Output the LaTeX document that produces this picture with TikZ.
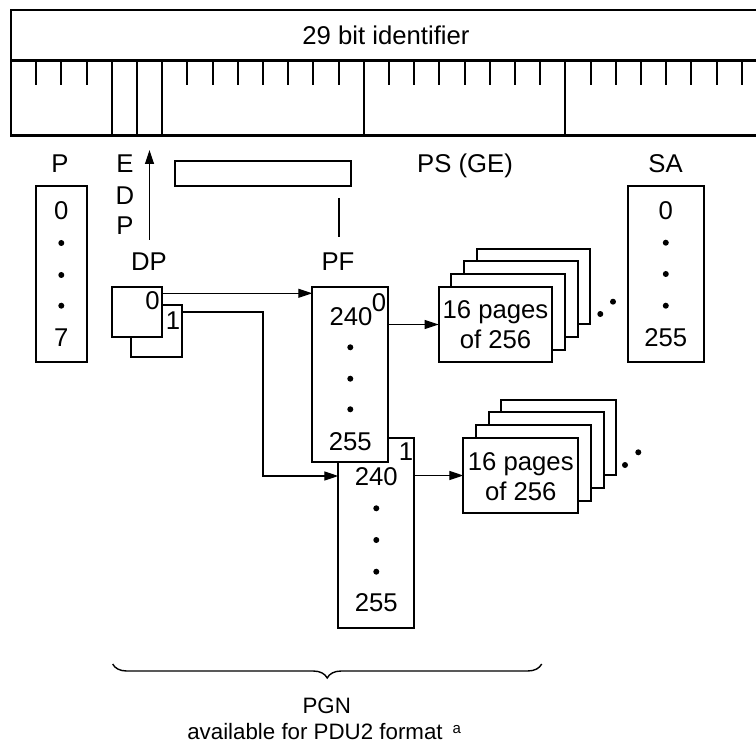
\documentclass[tikz,border=0pt]{standalone}
\usepackage{fontspec}
\setmainfont{Liberation Sans}
\usetikzlibrary{arrows.meta,decorations.pathreplacing}
\begin{document}
\begin{tikzpicture}[x=1pt,y=-1pt,
  lbl/.style={inner sep=0pt,outer sep=0pt,anchor=base,font=\fontsize{25.7}{30}\selectfont},
  lblsmall/.style={inner sep=0pt,outer sep=0pt,anchor=base,font=\fontsize{22.3}{26}\selectfont},
  lbltiny/.style={inner sep=0pt,outer sep=0pt,anchor=base,font=\fontsize{15}{18}\selectfont},
  box/.style={draw,line width=2.1pt,fill=white,inner sep=0pt,outer sep=0pt,anchor=north west},
  conn/.style={line width=1.2pt},
  arr/.style={conn,-{Triangle[length=14pt,width=9pt]}},
  barline/.style={line width=2.5pt},
  tickline/.style={line width=2.1pt},
  dotmark/.style={fill=black}]
\useasboundingbox (0,0) rectangle (756,749);

% 29 bit identifier bar
\draw[barline] (756,10) -- (11,10) -- (11,135.7) -- (756,135.7);
\draw[barline] (11,60.7) -- (756,60.7);
\foreach \n in {4,5,6,14,22} \draw[tickline] (11+\n*25.2,60.7) -- (11+\n*25.2,135.7);
\foreach \n in {1,2,3,7,8,9,10,11,12,13,15,16,17,18,19,20,21,23,24,25,26,27,28,29}
  \draw[tickline] (11+\n*25.2,60.7) -- (11+\n*25.2,85);
\node[lbl] (title) at (386,45) {29 bit identifier};

% field labels
\node[lbl] (lP) at (60,173) {P};
\node[lbl] (lE) at (125,173) {E};
\node[lbl] (lD) at (125,205) {D};
\node[lbl] (lP2) at (125,235) {P};
\node[lbl] (lDP) at (149,270) {DP};
\node[lbl] (lPF) at (338,270) {PF};
\node[lbl] (lPS) at (465,173) {PS (GE)};
\node[lbl] (lSA) at (665.5,173) {SA};

% EDP arrow
\coordinate (edpfoot) at (149.5,240);
\coordinate (edptip) at (149.5,150);
\draw[arr] (edpfoot) -- (edptip);

% PF bar and line
\node[box,minimum width=176pt,minimum height=25pt] (pfbar) at (174.7,160.7) {};
\coordinate (pfl1) at (339,198);
\coordinate (pfl2) at (339,237);
\draw[conn] (pfl1) -- (pfl2);

% P box
\node[box,minimum width=50.7pt,minimum height=176.3pt] (pbox) at (36,185.7) {};
\node[lbl] (p0) at (61.3,220) {0};
\foreach \y in {243,275,305.7} \fill[dotmark] (61.3,\y) circle (3pt);
\node[lbl] (p7) at (61.3,346.7) {7};

% SA box
\node[box,minimum width=75.7pt,minimum height=176.6pt] (sabox) at (628,185.7) {};
\node[lbl] (sa0) at (665.8,220) {0};
\foreach \y in {242.7,274,305.7} \fill[dotmark] (665.8,\y) circle (3pt);
\node[lbl] (sa255) at (665.8,346.7) {255};

% DP boxes
\node[box,minimum width=51pt,minimum height=51.7pt] (dp1) at (130.7,305) {};
\node[box,minimum width=50.6pt,minimum height=50pt] (dp0) at (111.7,286.7) {};
\node[lbl] (dp0t) at (152.5,309.5) {0};
\node[lbl] (dp1t) at (173,330) {1};

% PF boxes
\node[box,minimum width=76pt,minimum height=190.6pt] (pf1) at (338.3,437.7) {};
\node[box,minimum width=76pt,minimum height=175.6pt] (pf0) at (312.3,286.7) {};
\node[lbl] (pf0a) at (351,325) {240};
\node[lbl] (pf0s) at (379,311.7) {0};
\foreach \y in {347.3,378.7,409.3} \fill[dotmark] (350.3,\y) circle (3pt);
\node[lbl] (pf0b) at (350.3,450) {255};
\node[lbl] (pf1s) at (406,460) {1};
\node[lbl] (pf1a) at (376.3,485) {240};
\foreach \y in {508.3,540,571.7} \fill[dotmark] (376.3,\y) circle (3pt);
\node[lbl] (pf1b) at (376.3,611.7) {255};

% page stacks
\foreach \k in {3,2,1}
  \node[box,minimum width=113.6pt,minimum height=75.6pt] (pgu\k) at (438.7+12.7*\k,286.7-12.7*\k) {};
\node[box,minimum width=113.6pt,minimum height=75.6pt] (pg0) at (438.7,286.7) {};
\node[lbl] (pg0a) at (495.5,318.3) {16 pages};
\node[lbl] (pg0b) at (495.5,348.3) {of 256};
\fill[dotmark] (600.3,314) circle (3pt);
\fill[dotmark] (613,301.7) circle (3pt);

\foreach \k in {3,2,1}
  \node[box,minimum width=115pt,minimum height=75.6pt] (pgl\k) at (463.3+12.7*\k,437.7-12.7*\k) {};
\node[box,minimum width=115pt,minimum height=75.6pt] (pg1) at (463.3,437.7) {};
\node[lbl] (pg1a) at (520.8,470) {16 pages};
\node[lbl] (pg1b) at (520.8,500) {of 256};
\fill[dotmark] (625,465) circle (3pt);
\fill[dotmark] (638.3,452.3) circle (3pt);

% connectors
\coordinate (d0) at ([yshift=-6.6pt]dp0.north east);
\draw[arr] (d0) -- (d0 -| pf0.west);
\coordinate (d1) at ([yshift=-7pt]dp1.north east);
\coordinate (bend) at (263,476);
\draw[arr] (d1) -| (bend) -- (bend -| pf1.west);
\draw[arr] (pg0.west -| pf0.east) -- (pg0.west);
\draw[arr] (pg1.west -| pf1.east) -- (pg1.west);

% brace
\coordinate (brL) at (112.7,664);
\coordinate (brR) at (541.7,664);
\draw[line width=1.4pt,decorate,decoration={brace,mirror,amplitude=14pt}] (brL) -- (brR);
\node[lblsmall] (pgn) at (326.7,713.3) {PGN};
\node[lblsmall] (avail) at (315,739.3) {available for PDU2 format};
\node[lbltiny] (supa) at (456.7,733) {a};
\end{tikzpicture}
\end{document}
